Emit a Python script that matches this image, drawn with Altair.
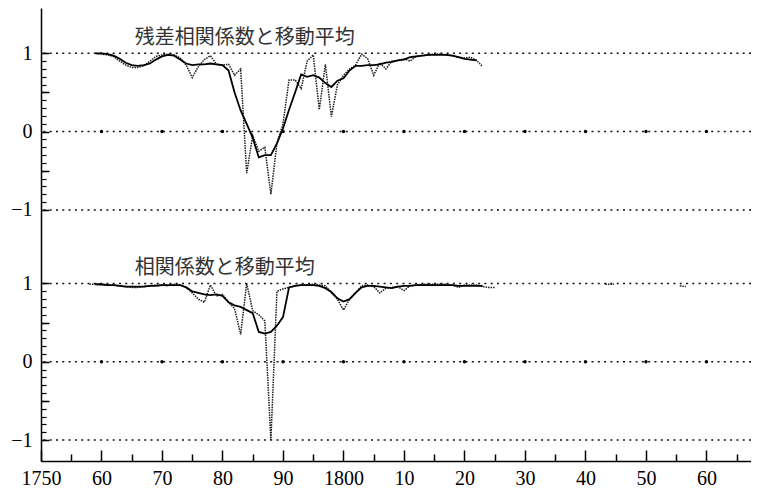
import altair as alt
import pandas as pd

# ---------------- data ----------------
OFF_TOP = 0.0
OFF_BOT = -2.94
Y_DOMAIN = [-4.208, 1.579]
X_DOMAIN = [1750, 1867.36]

top_raw_start = 1759
top_raw = [1.00, 0.99, 0.98, 0.96, 0.90, 0.85, 0.82, 0.82, 0.84, 0.90,
           0.96, 0.98, 0.99, 0.98, 0.94, 0.85, 0.69, 0.83, 0.92, 0.97,
           0.86, 0.85, 0.86, 0.72, 0.80, -0.53, -0.05, -0.25, -0.20, -0.80,
           -0.15, 0.10, 0.66, 0.66, 0.55, 0.90, 0.98, 0.28, 0.86, 0.19,
           0.60, 0.72, 0.80, 0.85, 0.99, 0.93, 0.72, 0.88, 0.80, 0.90,
           0.91, 0.93, 0.90, 0.96, 0.97, 0.98, 0.99, 0.99, 0.98, 0.97,
           0.95, 0.94, 0.95, 0.91, 0.83]

top_ma_start = 1759
top_ma = [1.00, 1.00, 0.99, 0.97, 0.93, 0.88, 0.85, 0.84, 0.85, 0.87,
          0.92, 0.96, 0.98, 0.97, 0.92, 0.87, 0.85, 0.86, 0.86, 0.87,
          0.86, 0.85, 0.78, 0.50, 0.27, 0.10, -0.08, -0.33, -0.30, -0.30,
          -0.15, 0.04, 0.28, 0.50, 0.73, 0.70, 0.72, 0.69, 0.62, 0.57,
          0.65, 0.68, 0.78, 0.84, 0.84, 0.85, 0.85, 0.86, 0.88, 0.89,
          0.91, 0.92, 0.95, 0.96, 0.97, 0.98, 0.98, 0.98, 0.98, 0.97,
          0.95, 0.93, 0.92, 0.91]

bot_raw_start = 1758
bot_raw = [0.99, 0.99, 0.98, 0.98, 0.98, 0.97, 0.96, 0.95, 0.95, 0.96,
           0.97, 0.98, 0.98, 0.97, 0.99, 0.98, 0.95, 0.88, 0.80, 0.76,
           0.98, 0.84, 0.86, 0.76, 0.68, 0.35, 1.00, 0.65, 0.60, 0.52,
           -1.00, 0.90, 0.93, 0.95, 0.97, 0.98, 0.98, 0.99, 0.98, 0.97,
           0.88, 0.80, 0.66, 0.80, 0.88, 0.97, 0.98, 0.96, 0.88, 0.94,
           0.95, 0.96, 0.91, 0.97, 0.98, 0.99, 0.99, 0.99, 0.99, 0.99,
           0.98, 0.95, 0.98, 0.98, 0.98, 0.96, 0.95, 0.95]

bot_ma_start = 1759
bot_ma = [0.99, 0.99, 0.98, 0.98, 0.97, 0.96, 0.96, 0.96, 0.96, 0.97,
          0.97, 0.98, 0.98, 0.98, 0.98, 0.95, 0.90, 0.88, 0.86, 0.85,
          0.86, 0.84, 0.76, 0.72, 0.70, 0.66, 0.62, 0.38, 0.36, 0.38,
          0.46, 0.57, 0.95, 0.97, 0.98, 0.98, 0.98, 0.97, 0.94, 0.89,
          0.81, 0.77, 0.80, 0.88, 0.95, 0.97, 0.97, 0.96, 0.95, 0.94,
          0.96, 0.97, 0.97, 0.98, 0.98, 0.98, 0.98, 0.98, 0.98, 0.98,
          0.97, 0.97, 0.97, 0.97, 0.97]

# short stray fragments in the lower panel
stray_years = [[1843.3, 1844.7], [1855.6, 1856.6]]
stray_vals = [[0.99, 0.99], [0.97, 0.96]]

titles = ["残差相関係数と移動平均", "相関係数と移動平均"]
title_x = [1765.5, 1765.5]
title_v = [1.20, 1.20]

x_major = list(range(1750, 1861, 10))
x_minor = list(range(1755, 1866, 10))
dot_years = list(range(1760, 1861, 10))

# ---------------- build tables ----------------
def series(start, vals, off, seg):
    return [{"year": start + i, "u": round(v + off, 4), "seg": seg}
            for i, v in enumerate(vals)]

raw_rows = series(top_raw_start, top_raw, OFF_TOP, "top") + \
    series(bot_raw_start, bot_raw, OFF_BOT, "bot")
for k, (ys_, vs_) in enumerate(zip(stray_years, stray_vals)):
    for yy, vv in zip(ys_, vs_):
        raw_rows.append({"year": yy, "u": round(vv + OFF_BOT, 4), "seg": f"s{k}"})
raw_df = pd.DataFrame(raw_rows)

ma_df = pd.DataFrame(series(top_ma_start, top_ma, OFF_TOP, "top") +
                     series(bot_ma_start, bot_ma, OFF_BOT, "bot"))

grid_df = pd.DataFrame({"u": [round(o + v, 4) for o in (OFF_TOP, OFF_BOT) for v in (1, 0, -1)]})
dots_df = pd.DataFrame([{"year": y, "u": o} for o in (OFF_TOP, OFF_BOT) for y in dot_years])
title_df = pd.DataFrame({"year": title_x,
                         "u": [title_v[0] + OFF_TOP, title_v[1] + OFF_BOT],
                         "text": titles})

y_labels = [round(o + v, 4) for o in (OFF_TOP, OFF_BOT) for v in (1, 0, -1)]
y_major = [round(o + v, 4) for o in (OFF_TOP, OFF_BOT) for v in (1, 0.5, 0, -0.5, -1)]
y_minor = [round(o + k / 10, 4) for o in (OFF_TOP, OFF_BOT) for k in range(-10, 11)]

# ---------------- scales & axes ----------------
xs = alt.Scale(domain=X_DOMAIN, nice=False, zero=False)
ys = alt.Scale(domain=Y_DOMAIN, nice=False, zero=False)
SERIF = "Liberation Serif"
LSIZE = 20

x_lab_axis = alt.Axis(orient="bottom", values=x_major, title=None, grid=False,
                      ticks=False, tickSize=0, domain=True, domainColor="black",
                      domainWidth=1.5, labelFont=SERIF, labelFontSize=LSIZE,
                      labelColor="black", labelPadding=23, labelBaseline="alphabetic",
                      labelFlush=False, labelOverlap=False,
                      labelExpr="(datum.value == 1750 || datum.value % 100 == 0) ? '' + datum.value : '' + (datum.value % 100)")
x_maj_axis = alt.Axis(orient="bottom", values=x_major, title=None, grid=False,
                      labels=False, domain=False, ticks=True, tickSize=11,
                      offset=-11, tickColor="black", tickWidth=1.5)
x_min_axis = alt.Axis(orient="bottom", values=x_minor, title=None, grid=False,
                      labels=False, domain=False, ticks=True, tickSize=7,
                      offset=-7, tickColor="black", tickWidth=1.5)

y_lab_axis = alt.Axis(orient="left", values=y_labels, title=None, grid=False,
                      ticks=False, tickSize=0, domain=True, domainColor="black",
                      domainWidth=1.5, labelFont=SERIF, labelFontSize=LSIZE,
                      labelColor="black", labelPadding=9, labelFlush=False,
                      labelOverlap=False,
                      labelExpr="datum.value > 0.5 ? '1' : datum.value > -0.5 ? '0' : datum.value > -1.5 ? '−1' : datum.value > -2.5 ? '1' : datum.value > -3.5 ? '0' : '−1'")
y_maj_axis = alt.Axis(orient="left", values=y_major, title=None, grid=False,
                      labels=False, domain=False, ticks=True, tickSize=8,
                      offset=-8, tickColor="black", tickWidth=1.5)
y_min_axis = alt.Axis(orient="left", values=y_minor, title=None, grid=False,
                      labels=False, domain=False, ticks=True, tickSize=5,
                      offset=-5, tickColor="black", tickWidth=1.2)

# ---------------- layers ----------------
grid = alt.Chart(grid_df).mark_rule(strokeDash=[2, 4.3], strokeWidth=1.5, color="#111").encode(
    y=alt.Y("u:Q", scale=ys, axis=None))

dots = alt.Chart(dots_df).mark_circle(size=12, color="black", opacity=1).encode(
    x=alt.X("year:Q", scale=xs, axis=x_lab_axis),
    y=alt.Y("u:Q", scale=ys, axis=y_lab_axis))

raw = alt.Chart(raw_df).mark_line(strokeDash=[1.5, 1], strokeWidth=1.5, color="#1a1a1a").encode(
    x=alt.X("year:Q", scale=xs, axis=x_maj_axis),
    y=alt.Y("u:Q", scale=ys, axis=y_maj_axis),
    detail="seg:N")

ma = alt.Chart(ma_df).mark_line(strokeWidth=1.8, color="black").encode(
    x=alt.X("year:Q", scale=xs, axis=x_min_axis),
    y=alt.Y("u:Q", scale=ys, axis=y_min_axis),
    detail="seg:N")

text = alt.Chart(title_df).mark_text(align="left", baseline="middle", fontSize=20,
                                     font="Noto Sans CJK JP", color="#333").encode(
    x=alt.X("year:Q", scale=xs, axis=None),
    y=alt.Y("u:Q", scale=ys, axis=None),
    text="text:N")

chart = alt.layer(grid, dots, raw, ma, text).resolve_axis(
    x="independent", y="independent"
).properties(
    width=710, height=453,
    autosize=alt.AutoSizeParams(type="none"),
    padding={"left": 33, "top": 0, "right": 0, "bottom": 27},
    background="white",
).configure_view(stroke=None).configure_axis(
    labelFont=SERIF, labelFontSize=LSIZE
)

chart.save("out.html", embed_options={"renderer": "svg", "actions": False})
